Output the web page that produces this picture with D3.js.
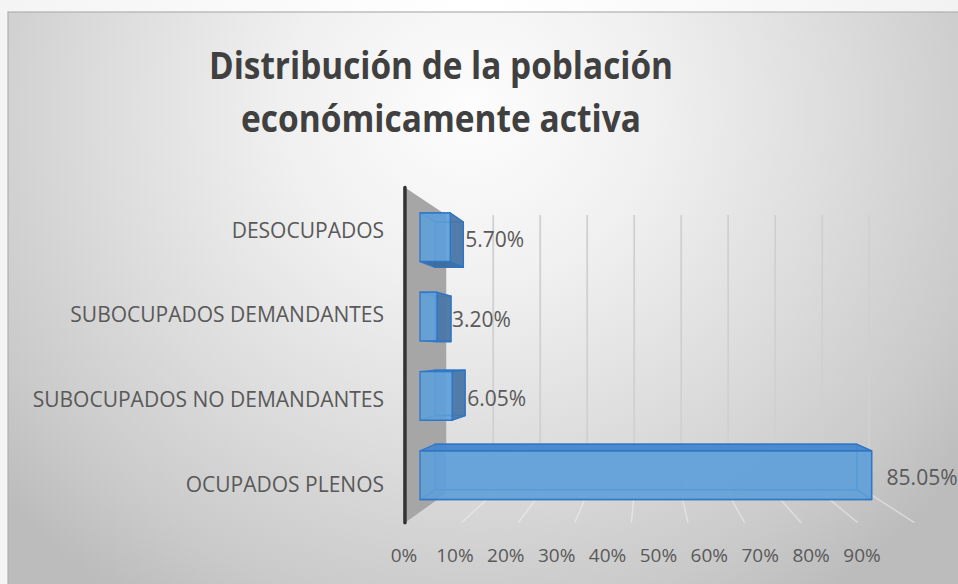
<!DOCTYPE html>
<html><head><meta charset="utf-8">
<script src="https://cdn.jsdelivr.net/npm/d3@7/dist/d3.min.js"></script>
<style>body{margin:0;background:#fff;} svg{display:block;}</style>
</head><body>
<svg id="c" width="958" height="584"></svg>
<script>
// ---- data ----
const categories = ["DESOCUPADOS", "SUBOCUPADOS DEMANDANTES", "SUBOCUPADOS NO DEMANDANTES", "OCUPADOS PLENOS"];
const values = [5.70, 3.20, 6.05, 85.05];
const valueLabels = ["5.70%", "3.20%", "6.05%", "85.05%"];
const tickValues = [0, 10, 20, 30, 40, 50, 60, 70, 80, 90];
const tickLabels = ["0%", "10%", "20%", "30%", "40%", "50%", "60%", "70%", "80%", "90%"];
const titleLines = ["Distribución de la población", "económicamente activa"];

// ---- layout ----
const W = 958, H = 584;
const svg = d3.select("#c");
const FONT = "'Open Sans', 'Noto Sans', sans-serif";

const VP = {x: 648, y: 350};
const K_FRONT = 1.066, K_BAR_F = 1.0, K_BAR_B = 0.934, K_BACK = 0.885;
const P = (wx, wy, k) => [VP.x + (wx - VP.x) * k, VP.y + (wy - VP.y) * k];

const x = d3.scaleLinear().domain([0, 90]).range([420, 420 + 5.31 * 90]);
const y = d3.scaleBand().domain(categories).range([197.5, 515]).paddingInner(0.388).paddingOuter(0.195);
const xLab = d3.scaleLinear().domain([0, 90]).range([404, 862]);
const wallTop = 197.5, wallBottom = 512;

// ---- background ----
const defs = svg.append("defs");
const bg = defs.append("radialGradient").attr("id", "bg").attr("gradientUnits", "userSpaceOnUse")
  .attr("cx", 470).attr("cy", 110).attr("r", 620)
  .attr("gradientTransform", "translate(470,110) scale(1,0.95) translate(-470,-110)");
[[0, "#fdfdfd"], [0.3, "#f0f0f0"], [0.6, "#dcdcdc"], [0.85, "#cacaca"], [1, "#bcbcbc"]]
  .forEach(([o, c]) => bg.append("stop").attr("offset", o).attr("stop-color", c));
const topG = defs.append("linearGradient").attr("id", "topg").attr("x1", 0).attr("x2", 1);
[[0, "#f4f4f4"], [0.5, "#ffffff"], [1, "#f2f2f2"]].forEach(([o, c]) => topG.append("stop").attr("offset", o).attr("stop-color", c));

svg.append("rect").attr("width", W).attr("height", H).attr("fill", "url(#topg)");
svg.append("rect").attr("x", 8).attr("y", 12).attr("width", W).attr("height", H)
  .attr("fill", "url(#bg)").attr("stroke", "#b0b0b0").attr("stroke-width", 1.2);

// ---- side wall ----
const x0 = x(0);
const wallPts = [P(x0, wallTop, K_FRONT), P(x0, wallTop, K_BACK), P(x0, wallBottom, K_BACK), P(x0, wallBottom, K_FRONT)];
svg.append("polygon").attr("points", wallPts.map(p => p.join(",")).join(" ")).attr("fill", "#a6a6a6");

// ---- back-wall gridlines and floor lines ----
const gridT = tickValues.filter(t => t > 0);
svg.append("g").selectAll("line").data(gridT).join("line")
  .attr("x1", t => P(x(t), wallTop, K_BACK)[0]).attr("y1", t => P(x(t), wallTop, K_BACK)[1])
  .attr("x2", t => P(x(t), wallBottom, K_BACK)[0]).attr("y2", t => P(x(t), wallBottom, K_BACK)[1])
  .attr("stroke", "#d0d0d0").attr("stroke-width", 1.8);
svg.append("g").selectAll("line").data(gridT).join("line")
  .attr("x1", t => P(x(t), wallBottom, K_BACK)[0]).attr("y1", t => P(x(t), wallBottom, K_BACK)[1])
  .attr("x2", t => P(x(t), wallBottom, K_FRONT)[0]).attr("y2", t => P(x(t), wallBottom, K_FRONT)[1])
  .attr("stroke", "#f4f4f4").attr("stroke-width", 1.5).attr("opacity", 0.5);

// ---- axis line ----
svg.append("line")
  .attr("x1", P(x0, wallTop, K_FRONT)[0]).attr("y1", P(x0, wallTop, K_FRONT)[1])
  .attr("x2", P(x0, wallBottom, K_FRONT)[0]).attr("y2", P(x0, wallBottom, K_FRONT)[1])
  .attr("stroke", "#333").attr("stroke-width", 3.5).attr("stroke-linecap", "round");

// ---- data labels (behind bars) ----
svg.append("g").selectAll("text").data(categories).join("text")
  .attr("x", (c, i) => x(values[i]) + 15)
  .attr("y", c => y(c) + y.bandwidth() / 2 + 2)
  .attr("dominant-baseline", "central")
  .attr("font-family", FONT).attr("font-size", 21).attr("fill", "#595959")
  .text((c, i) => valueLabels[i]);

// ---- 3D bars ----
const barG = svg.append("g");
categories.forEach((c, i) => {
  const xa = x(0), xb = x(values[i]), ya = y(c), yb = y(c) + y.bandwidth();
  const F = {tl: P(xa, ya, K_BAR_F), tr: P(xb, ya, K_BAR_F), br: P(xb, yb, K_BAR_F), bl: P(xa, yb, K_BAR_F)};
  const B = {tl: P(xa, ya, K_BAR_B), tr: P(xb, ya, K_BAR_B), br: P(xb, yb, K_BAR_B), bl: P(xa, yb, K_BAR_B)};
  const face = (pts, fill, op) => barG.append("polygon")
    .attr("points", pts.map(p => p.join(",")).join(" "))
    .attr("fill", fill).attr("fill-opacity", op)
    .attr("stroke", "#2e75c6").attr("stroke-width", 1.4).attr("stroke-opacity", 0.9).attr("stroke-linejoin", "round");
  face([B.tl, B.tr, B.br, B.bl], "#5b9bd5", 0.35);
  const topVis = B.tl[1] < F.tl[1];
  const rightVis = B.tr[0] > F.tr[0];
  if (!topVis) face([F.tl, F.tr, B.tr, B.tl], "#4a8bcf", 0.2);
  else face([F.bl, F.br, B.br, B.bl], "#3f6d9c", 0.15);
  if (!rightVis) face([F.tr, F.br, B.br, B.tr], "#4b78a8", 0.2);
  if (topVis) face([F.tl, F.tr, B.tr, B.tl], "#4886cc", 0.95);
  else face([F.bl, F.br, B.br, B.bl], "#3d6a98", 0.95);
  if (rightVis) face([F.tr, F.br, B.br, B.tr], "#4c77a6", 0.95);
  face([F.tl, F.tr, F.br, F.bl], "#5e9fda", 0.88);
});

// ---- category labels ----
svg.append("g").selectAll("text").data(categories).join("text")
  .attr("x", 384)
  .attr("y", c => P(x0, y(c) + y.bandwidth() / 2, K_FRONT)[1])
  .attr("text-anchor", "end").attr("dominant-baseline", "central")
  .attr("font-family", FONT).attr("font-size", 21).attr("fill", "#595959")
  .text(c => c);

// ---- x tick labels ----
svg.append("g").selectAll("text").data(tickValues).join("text")
  .attr("x", t => xLab(t)).attr("y", 555)
  .attr("text-anchor", "middle").attr("dominant-baseline", "central")
  .attr("font-family", FONT).attr("font-size", 19).attr("fill", "#595959")
  .text((t, i) => tickLabels[i]);

// ---- title ----
const titleWidths = [464, 400];
svg.append("g").selectAll("text").data(titleLines).join("text")
  .attr("x", 441).attr("y", (d, i) => 79 + i * 53)
  .attr("text-anchor", "middle")
  .attr("font-family", FONT).attr("font-weight", 700).attr("font-size", 38).attr("fill", "#404040")
  .attr("textLength", (d, i) => titleWidths[i]).attr("lengthAdjust", "spacingAndGlyphs")
  .text(d => d);
</script>
</body></html>
